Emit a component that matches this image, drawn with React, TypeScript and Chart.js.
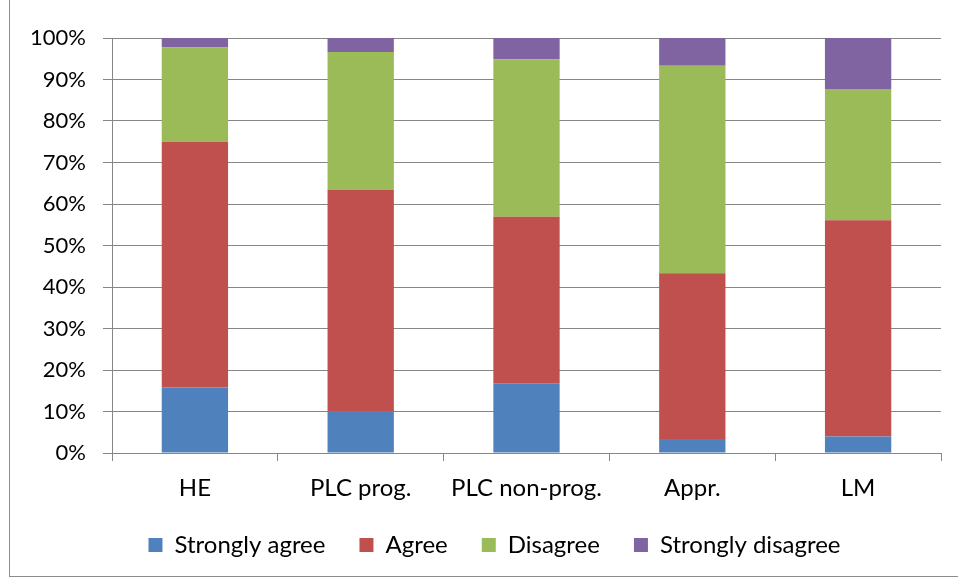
import React, { useEffect, useRef } from "react";
import { Chart, registerables } from "chart.js";

Chart.register(...registerables);

const categories = ["HE", "PLC prog.", "PLC non-prog.", "Appr.", "LM"];
const stronglyAgree = [15.8, 10.0, 16.8, 3.4, 4.0];
const agree = [59.2, 53.4, 40.1, 39.9, 52.1];
const disagree = [22.7, 33.2, 38.0, 50.0, 31.6];
const stronglyDisagree = [2.3, 3.4, 5.1, 6.7, 12.3];
const seriesNames = ["Strongly agree", "Agree", "Disagree", "Strongly disagree"];
const seriesColors = ["#4F81BD", "#C0504D", "#9BBB59", "#8064A2"];

const FONT = "Lato";
const GRID = "#868686";

const legendShift = {
  id: "legendShift",
  afterLayout(chart: any) {
    const lg = chart.legend;
    if (lg) {
      lg.left += 19;
      lg.right += 19;
      lg.top -= 6;
      lg.bottom -= 6;
    }
  },
};

export default function App() {
  const ref = useRef<HTMLCanvasElement>(null);
  useEffect(() => {
    const canvas = ref.current;
    if (!canvas) return;
    const values = [stronglyAgree, agree, disagree, stronglyDisagree];
    const chart = new Chart(canvas, {
      type: "bar",
      data: {
        labels: categories,
        datasets: values.map((v, i) => ({
          label: seriesNames[i],
          data: v,
          backgroundColor: seriesColors[i],
          borderWidth: 0,
          barPercentage: 0.4,
          categoryPercentage: 1,
        })),
      },
      plugins: [legendShift],
      options: {
        animation: false,
        responsive: false,
        maintainAspectRatio: false,
        layout: { padding: { top: 39, right: 17, left: 0, bottom: 3 } },
        plugins: {
          tooltip: { enabled: false },
          legend: {
            position: "bottom",
            labels: {
              font: { family: FONT, size: 24 },
              color: "#000",
              boxWidth: 14,
              boxHeight: 14,
              padding: 34,
            },
          },
        },
        scales: {
          x: {
            stacked: true,
            grid: {
              offset: true,
              drawOnChartArea: false,
              drawTicks: true,
              tickLength: 8,
              color: GRID,
            },
            border: { color: GRID, width: 1 },
            ticks: {
              font: { family: FONT, size: 24 },
              color: "#000",
              padding: 13,
              maxRotation: 0,
            },
            afterFit: (s: any) => {
              s.height = 52;
            },
          },
          y: {
            stacked: true,
            min: 0,
            max: 100,
            grid: { color: GRID, tickLength: 9, lineWidth: 1 },
            border: { color: GRID, width: 1 },
            ticks: {
              stepSize: 10,
              font: { family: FONT, size: 22 },
              color: "#000",
              padding: 17,
              callback: (v: any) => v + "%",
            },
            afterFit: (s: any) => {
              s.width = 102;
            },
          },
        },
      },
    });
    return () => chart.destroy();
  }, []);
  return (
    <div
      style={{
        position: "absolute",
        left: 9,
        top: -2,
        width: 960,
        height: 577,
        border: "1px solid #8c8c8c",
        background: "#fff",
      }}
    >
      <canvas ref={ref} width={948} height={577} style={{ display: "block", width: 948, height: 577 }} />
    </div>
  );
}
